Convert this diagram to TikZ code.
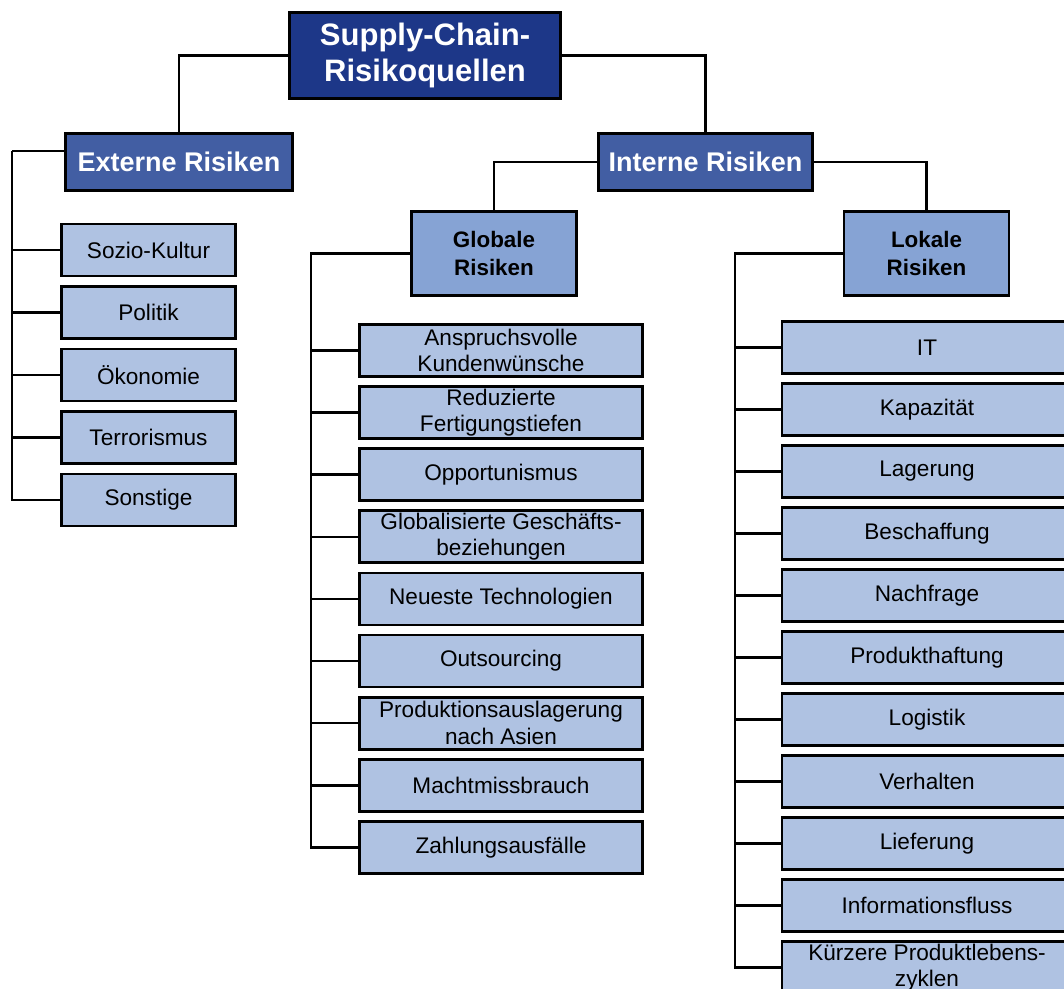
\documentclass[tikz,border=0pt]{standalone}
\usepackage{fontspec}
\setmainfont{Liberation Sans}
\definecolor{cRoot}{HTML}{1D3788}
\definecolor{cMid}{HTML}{425EA3}
\definecolor{cSub}{HTML}{86A3D4}
\definecolor{cLeaf}{HTML}{AFC2E2}
\begin{document}
\begin{tikzpicture}[x=1pt,y=-1pt,
  box/.style={draw=black, line width=2.8pt, rectangle, inner sep=0pt, align=center},
  rootbox/.style={box, fill=cRoot, text=white, font=\fontsize{31}{36}\selectfont\bfseries, minimum width=271pt, minimum height=86pt},
  midbox/.style={box, fill=cMid, text=white, font=\fontsize{27}{30}\selectfont\bfseries, minimum height=57pt},
  subbox/.style={box, fill=cSub, text=black, font=\fontsize{22.4}{27.5}\selectfont\bfseries, minimum width=165pt, minimum height=84pt},
  leaf/.style={box, fill=cLeaf, text=black, font=\fontsize{22.6}{26.5}\selectfont, minimum height=52pt},
  eleaf/.style={leaf, minimum width=174pt},
  gleaf/.style={leaf, minimum width=283pt},
  lleaf/.style={leaf, minimum width=290pt},
  conn/.style={draw=black, line width=2.6pt}]
\useasboundingbox (0,0) rectangle (1064,988);

% top levels
\node[rootbox] (root) at (425,55.5) {Supply-Chain-\\Risikoquellen};
\node[midbox, minimum width=227pt] (ext) at (179,162) {Externe Risiken};
\node[midbox, minimum width=214pt] (int) at (705.5,162) {Interne Risiken};
\node[subbox] (glob) at (494,253.5) {Globale\\Risiken};
\node[subbox] (lok) at (926.5,253.5) {Lokale\\Risiken};

% external leaves
\foreach \t [count=\i from 0] in {Sozio-Kultur,Politik,Ökonomie,Terrorismus,Sonstige}
  \node[eleaf] (e\i) at (148.5,250+62.5*\i) {\t};

% global leaves
\foreach \t [count=\i from 0] in {{Anspruchsvolle\\Kundenwünsche},{Reduzierte\\Fertigungstiefen},Opportunismus,{Globalisierte Geschäfts-\\beziehungen},Neueste Technologien,Outsourcing,{Produktionsauslagerung\\nach Asien},Machtmissbrauch,Zahlungsausfälle}
  \node[gleaf] (g\i) at (501,350.5+62.1*\i) {\t};

% local leaves
\foreach \t [count=\i from 0] in {IT,Kapazität,Lagerung,Beschaffung,Nachfrage,Produkthaftung,Logistik,Verhalten,Lieferung,Informationsfluss,{Kürzere Produktlebens-\\zyklen}}
  \node[lleaf] (l\i) at (927,347.5+62*\i) {\t};

% connectors
\draw[conn] (root.west) -| (ext.north);
\draw[conn] (root.east) -| (int.north);
\draw[conn] (int.west) -| (glob.north);
\draw[conn] (int.east) -| (lok.north);

\coordinate (ex) at (12,151);
\draw[conn] (ex) -- (ex -| ext.west);
\draw[conn] (ex) |- (e4.west);
\foreach \i in {0,...,3} \draw[conn] (ex |- e\i.west) -- (e\i.west);

\coordinate (gx) at (311,253.5);
\draw[conn] (glob.west) -- (gx) |- (g8.west);
\foreach \i in {0,...,7} \draw[conn] (gx |- g\i.west) -- (g\i.west);

\coordinate (lx) at (735,253.5);
\draw[conn] (lok.west) -- (lx) |- (l10.west);
\foreach \i in {0,...,9} \draw[conn] (lx |- l\i.west) -- (l\i.west);
\end{tikzpicture}
\end{document}
